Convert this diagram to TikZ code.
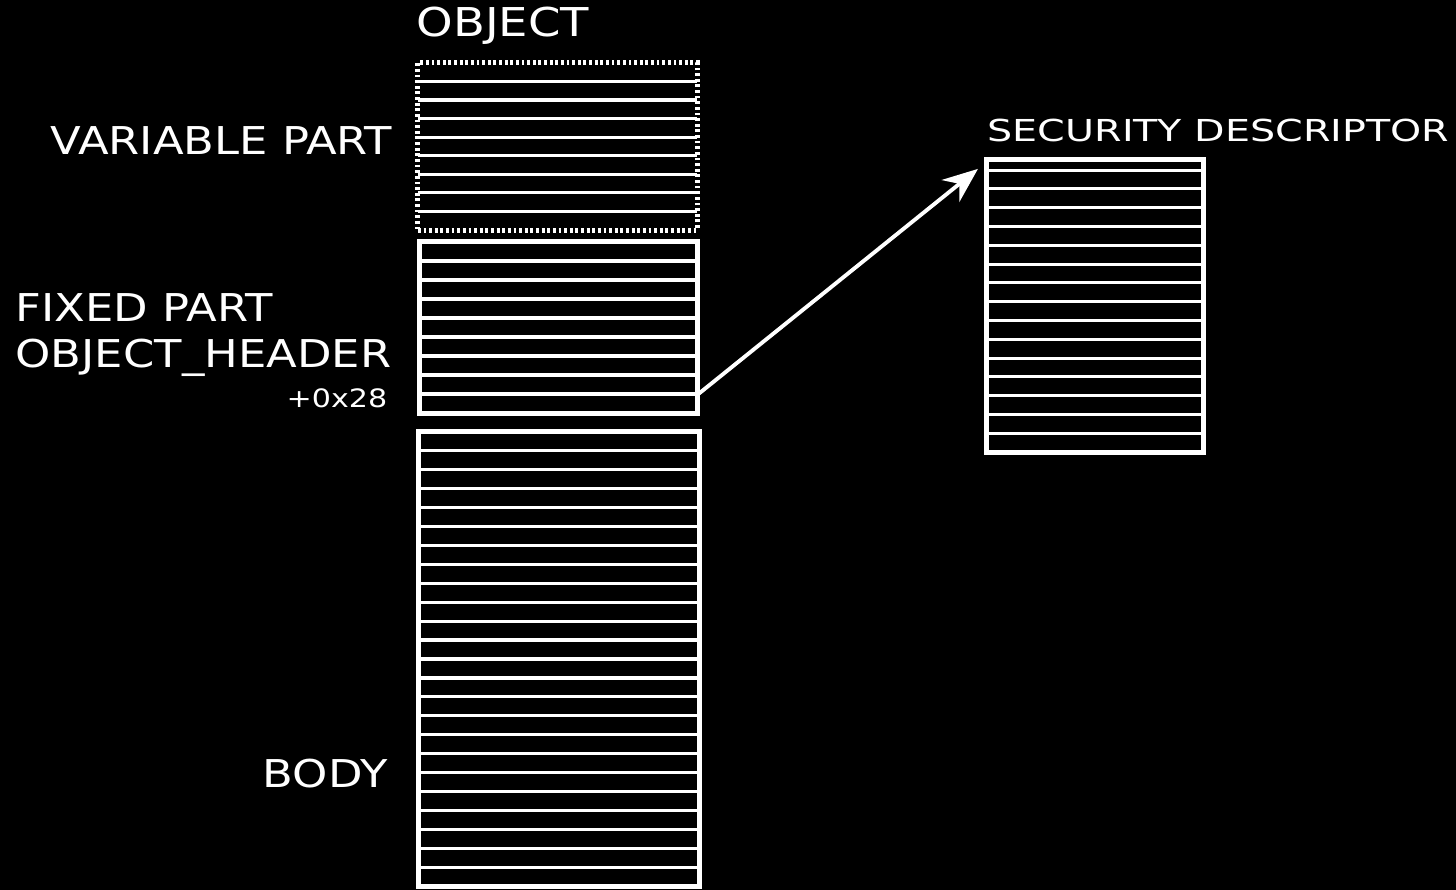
\documentclass[tikz,border=0pt]{standalone}
\usepackage{fontspec}
\setmainfont{DejaVu Sans}[FakeStretch=1.17]
\newfontfamily\sdfont{DejaVu Sans}[FakeStretch=1.31]
\newfontfamily\offfont{DejaVu Sans}[FakeStretch=1.19]
\usepackage{tikz}
\usetikzlibrary{arrows.meta,calc}

\begin{document}
\begin{tikzpicture}[
  x=0.01cm, y=0.01cm,
  block/.style={rectangle,draw=white,line width=1.4pt,inner sep=0pt,outer sep=0pt},
  varblock/.style={block,dash pattern=on 0.8pt off 0.8pt},
  row/.style={draw=white,line width=0.9pt},
  lbl/.style={text=white,inner sep=0pt,font=\fontsize{10.9}{13}\selectfont},
  ptr/.style={draw=white,line width=1.1pt,-{Stealth[length=10pt,width=8pt]}}
]
% black page
\fill[black] (0,0) rectangle (1456,890);
\useasboundingbox (0,0) rectangle (1456,890);

% object blocks, left column
\node[varblock,minimum width=2.79cm,minimum height=1.67cm] (var) at (557.5,743.5) {};
\node[block,minimum width=2.77cm,minimum height=1.71cm] (fixed) at (558.5,562.5) {};
\node[block,minimum width=2.80cm,minimum height=4.54cm] (body) at (559,231) {};
% security descriptor, right
\node[block,minimum width=2.16cm,minimum height=2.92cm] (sd) at (1095,584) {};

% rows inside the blocks
\foreach \k in {1,...,8}
  \draw[row] ($(var.north west)!\k/9!(var.south west)$) -- ($(var.north east)!\k/9!(var.south east)$);
\foreach \k in {1,...,8}
  \draw[row] ($(fixed.north west)!\k/9!(fixed.south west)$) -- ($(fixed.north east)!\k/9!(fixed.south east)$);
\foreach \k in {1,...,23}
  \draw[row] ($(body.north west)!\k/24!(body.south west)$) -- ($(body.north east)!\k/24!(body.south east)$);
\foreach \k in {1,...,15}
  \draw[row] ($(sd.south west)+(0,\k*18.8)$) -- ($(sd.south east)+(0,\k*18.8)$);

% labels
\node[lbl,anchor=base west,font=\fontsize{11.3}{13}\selectfont] (objlbl) at (416,853) {OBJECT};
\node[lbl,anchor=base east] (varlbl) at (393,735) {VARIABLE PART};
\node[lbl,anchor=base west] (fixlbl) at (15,568) {FIXED PART};
\node[lbl,anchor=base west] (hdrlbl) at (15,522) {OBJECT\_HEADER};
\node[lbl,anchor=base east,font=\offfont\fontsize{7.2}{9}\selectfont] (offlbl) at (388,482) {+0x28};
\node[lbl,anchor=base west] (bodylbl) at (262,102) {BODY};
\node[lbl,anchor=base west,font=\sdfont\fontsize{8.6}{10}\selectfont] (sdlbl) at (987,748) {SECURITY DESCRIPTOR};

% pointer to the descriptor
\draw[ptr] ($(fixed.south east)+(0,18)$) -- ($(sd.north west)+(-9,-9)$);
\end{tikzpicture}
\end{document}
